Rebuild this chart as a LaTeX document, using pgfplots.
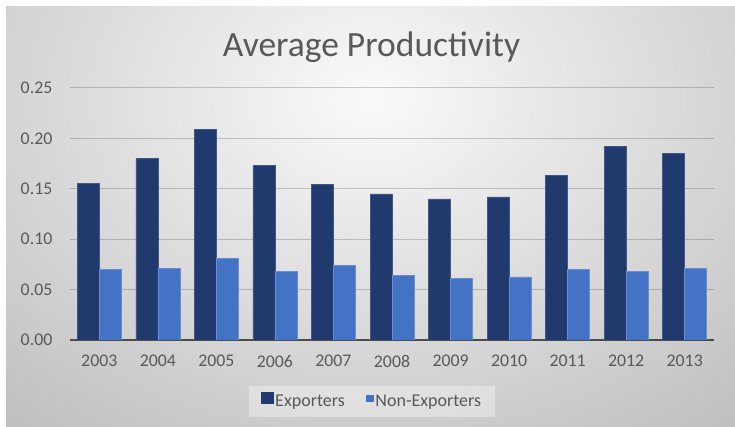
\documentclass[border=0pt]{standalone}
\usepackage{pgfplots}
\pgfplotsset{compat=1.18}
\usepackage{fontspec}
\setmainfont{Carlito}
\definecolor{exp}{HTML}{213A6E}
\definecolor{nonexp}{HTML}{4472C4}
\definecolor{txt}{HTML}{595959}
\definecolor{bgout}{HTML}{C0C0C0}
\definecolor{bgin}{HTML}{FAFAFA}
\begin{document}
\begin{tikzpicture}
\useasboundingbox (0bp,0bp) rectangle (735bp,427bp);
\fill[white] (0bp,0bp) rectangle (735bp,427bp);
\begin{scope}
\clip (6bp,0bp) rectangle (735bp,420bp);
\fill[bgout] (6bp,0bp) rectangle (735bp,420bp);
\shade[inner color=bgin, outer color=bgout] (372bp,330bp) ellipse (560bp and 420bp);
\end{scope}
\node[anchor=base, font=\fontsize{35.5bp}{42bp}\selectfont, text=txt, inner sep=0pt] at (371.5bp,370.3bp) {Average Productivity};
\begin{axis}[
  at={(70bp,87bp)}, anchor=south west,
  scale only axis, width=644bp, height=252bp,
  ybar, bar width=22bp, ybar=0pt,
  xmin=-0.5, xmax=10.5, ymin=0, ymax=0.25,
  xtick={0,1,2,3,4,5,6,7,8,9,10},
  xticklabels={2003,2004,2005,2006,2007,2008,2009,2010,2011,2012,2013},
  ytick={0,0.05,0.1,0.15,0.2,0.25},
  /pgf/number format/fixed, /pgf/number format/fixed zerofill, /pgf/number format/precision=2,
  /pgf/number format/assume math mode=true,
  ticklabel style={font=\fontsize{17.8bp}{20bp}\selectfont, text=txt, inner sep=0pt},
  yticklabel style={xshift=-17.5bp},
  xticklabel style={yshift=-15bp},
  major tick length=0pt,
  axis lines*=left,
  y axis line style={draw=none},
  x axis line style={draw=black!70, line width=1.6bp, -},
  ymajorgrids,
  grid style={black, opacity=0.19, line width=1bp},
  legend style={at={(0.469,-0.243)}, anchor=center, fill=white, fill opacity=0.35, text opacity=1, draw=none,
    font=\fontsize{18bp}{21bp}\selectfont, text=txt, inner xsep=12bp, inner ysep=6.5bp,
    /tikz/every even column/.append style={column sep=19bp}},
  legend columns=2,
]
\addplot[fill=exp, draw=exp!85!white, line width=0.6bp,
  legend image code/.code={\fill[exp, fill opacity=1] (9bp,-1.5bp) rectangle (20.7bp,8.8bp);}]
  coordinates {(0,0.155) (1,0.180) (2,0.209) (3,0.173) (4,0.154) (5,0.145) (6,0.140) (7,0.142) (8,0.163) (9,0.192) (10,0.185)};
\addplot[fill=nonexp, draw=nonexp!80!white, line width=0.6bp,
  legend image code/.code={\fill[nonexp, fill opacity=1] (4.5bp,0.4bp) rectangle (11.5bp,6.7bp);}]
  coordinates {(0,0.070) (1,0.071) (2,0.081) (3,0.068) (4,0.074) (5,0.064) (6,0.061) (7,0.0625) (8,0.070) (9,0.068) (10,0.071)};
\legend{Exporters,Non-Exporters}
\end{axis}
\end{tikzpicture}
\end{document}
